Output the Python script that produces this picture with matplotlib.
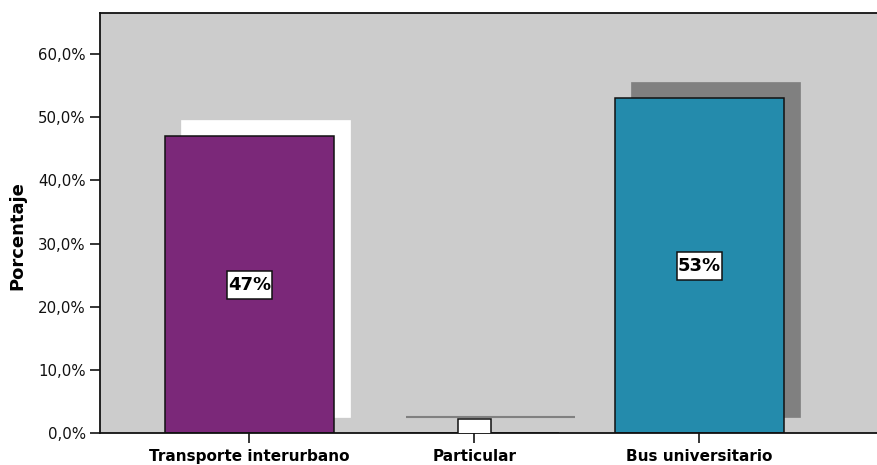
import matplotlib
matplotlib.use("Agg")
import matplotlib.pyplot as plt
from matplotlib.path import Path
import numpy as np

categories = ["Transporte interurbano", "Particular", "Bus universitario"]
values = [47.0, 0.0, 53.0]
labels = ["47%", "0%", "53%"]
bar_colors = ["#7B2879", "#7B2879", "#248BAC"]
shadow_colors = ["#FFFFFF", "#808080", "#808080"]
yticks = [0, 10, 20, 30, 40, 50, 60]
ytick_labels = ["0,0%", "10,0%", "20,0%", "30,0%", "40,0%", "50,0%", "60,0%"]

W, H = 877, 465
fig = plt.figure(figsize=(W / 100, H / 100), dpi=100)
ax = fig.add_axes([100 / W, (465 - 433) / H, (877 - 100) / W, (433 - 13) / H])
ax.set_facecolor("#CCCCCC")

x = np.arange(len(categories))
width = 0.75
dx = 16 / 225
dy = 16 / 6.317


def label_box(x0, y0, w, h, mutation_size):
    px = 0.06 * mutation_size
    py = 0.28 * mutation_size
    x0, y0 = x0 - px, y0 - py
    x1, y1 = x0 + w + 2 * px, y0 + h + 2 * py
    return Path([(x0, y0), (x1, y0), (x1, y1), (x0, y1), (x0, y0)], closed=True)


# shadows
for xi, v, sc in zip(x, values, shadow_colors):
    if v > 0:
        ax.bar(xi + dx, v, width=width, bottom=dy, color=sc, edgecolor=sc,
               linewidth=0.5, zorder=1)
    else:
        ax.bar(xi + dx, 0.0001, width=width, bottom=dy, color=sc, edgecolor=sc,
               linewidth=1.5, zorder=1)

# bars
ax.bar(x, values, width=width, color=bar_colors, edgecolor="#111111",
       linewidth=1.1, zorder=2)

# value labels
for xi, v, lab in zip(x, values, labels):
    ax.text(xi, v / 2, lab, ha="center", va="center", fontsize=13,
            fontweight="bold", color="black" if v > 0 else "none", zorder=4,
            bbox=dict(boxstyle=label_box, fc="white", ec="#111111", lw=1.1),
            clip_on=True)

ax.set_xlim(-0.6644, 2.789)
ax.set_ylim(0, 66.5)
ax.set_xticks(x)
ax.set_xticklabels(categories, fontsize=11, fontweight="bold")
ax.set_yticks(yticks)
ax.set_yticklabels(ytick_labels, fontsize=10.8, color="#111111")
ax.tick_params(axis="y", length=7.2, width=1.1, pad=3, direction="out")
ax.tick_params(axis="x", length=7.2, width=1.1, pad=4, direction="out")
ax.set_ylabel("Porcentaje", fontsize=13, fontweight="bold")
ax.yaxis.set_label_coords(-0.095, 0.47)

for s in ["top", "left", "bottom"]:
    ax.spines[s].set_linewidth(1.3)
    ax.spines[s].set_color("#111111")
ax.spines["right"].set_visible(False)

fig.savefig("out.png", dpi=100, facecolor="white")
